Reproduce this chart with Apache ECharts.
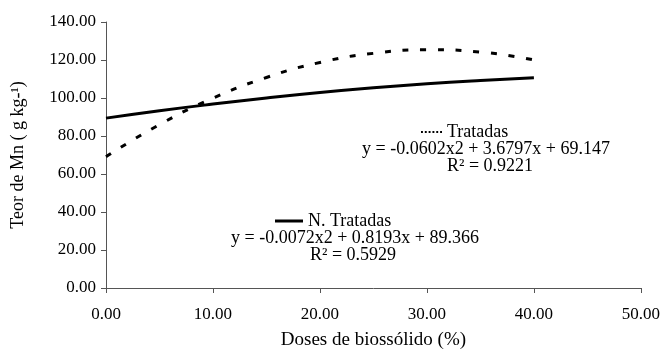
<!DOCTYPE html>
<html>
<head>
<meta charset="utf-8">
<script src="https://cdn.jsdelivr.net/npm/echarts@6/dist/echarts.min.js"></script>
<style>
  html, body { margin: 0; padding: 0; background: #fff; }
  #chart { width: 663px; height: 356px; }
</style>
</head>
<body>
<div id="chart"></div>
<script>
// doses (%) and Mn values
var doses = [0, 5, 10, 15, 20, 25, 30, 35, 40]
var tratadas = [69.1, 86.0, 99.9, 110.8, 118.7, 123.5, 125.4, 124.2, 120.0]
var naoTratadas = [89.4, 93.3, 96.8, 100.0, 102.9, 105.4, 107.5, 109.2, 110.6]

var eqTratadas = 'y = -0.0602x2 + 3.6797x + 69.147'
var r2Tratadas = 'R² = 0.9221'
var eqNaoTratadas = 'y = -0.0072x2 + 0.8193x + 89.366'
var r2NaoTratadas = 'R² = 0.5929'

var font = 'Liberation Serif'
// six small dots for the dotted legend sample
var dotIcon = 'path://M0 0h2v2H0zM4 0h2v2H4zM8 0h2v2H8zM12 0h2v2h-2zM16 0h2v2h-2zM20 0h2v2h-2z'

function pairs(xs, ys) {
  return xs.map(function(x, i) { return [x, ys[i]] })
}

var chart = echarts.init(document.getElementById('chart'))
chart.setOption({
  backgroundColor: '#fff',
  animation: false,
  textStyle: { fontFamily: font, color: '#000' },
  grid: { left: 106, right: 21, top: 22, bottom: 68 },
  legend: [{
    data: [{ name: 'Tratadas', icon: dotIcon }],
    left: 416,
    top: 118,
    itemWidth: 21,
    itemHeight: 3,
    itemGap: 4,
    textStyle: { fontFamily: font, fontSize: 18, color: '#000' }
  }, {
    data: [{ name: 'N. Tratadas', icon: 'rect' }],
    left: 270,
    top: 207,
    itemWidth: 28,
    itemHeight: 3,
    itemGap: 4,
    textStyle: { fontFamily: font, fontSize: 18, color: '#000' }
  }],
  xAxis: {
    type: 'value',
    min: 0,
    max: 50,
    interval: 10,
    name: 'Doses de biossólido (%)',
    nameLocation: 'middle',
    nameGap: 43,
    nameTextStyle: { fontFamily: font, fontSize: 19, color: '#000' },
    axisLine: { lineStyle: { color: '#555', width: 1 } },
    axisTick: { show: true, length: 5, lineStyle: { color: '#555' } },
    axisLabel: {
      margin: 18,
      fontFamily: font,
      fontSize: 17,
      color: '#000',
      formatter: function(v) { return v.toFixed(2) }
    },
    splitLine: { show: false }
  },
  yAxis: {
    type: 'value',
    min: 0,
    max: 140,
    interval: 20,
    name: 'Teor de Mn ( g kg-¹)',
    nameLocation: 'middle',
    nameGap: 79,
    nameTextStyle: { fontFamily: font, fontSize: 18, color: '#000' },
    axisLine: { show: true, lineStyle: { color: '#555', width: 1 } },
    axisTick: { show: true, length: 5, lineStyle: { color: '#555' } },
    axisLabel: {
      margin: 10,
      fontFamily: font,
      fontSize: 17,
      color: '#000',
      formatter: function(v) { return v.toFixed(2) }
    },
    splitLine: { show: false }
  },
  series: [{
    name: 'Tratadas',
    type: 'line',
    data: pairs(doses, tratadas),
    smooth: true,
    symbol: 'none',
    lineStyle: { color: '#000', width: 3, type: [6, 11.7] },
    itemStyle: { color: '#000' }
  }, {
    name: 'N. Tratadas',
    type: 'line',
    data: pairs(doses, naoTratadas),
    smooth: true,
    symbol: 'none',
    lineStyle: { color: '#000', width: 3 },
    itemStyle: { color: '#000' }
  }],
  graphic: [{
    type: 'text',
    x: 486,
    y: 149,
    style: { text: eqTratadas, font: '18px ' + font, fill: '#000', align: 'center', verticalAlign: 'middle' }
  }, {
    type: 'text',
    x: 490,
    y: 166,
    style: { text: r2Tratadas, font: '18px ' + font, fill: '#000', align: 'center', verticalAlign: 'middle' }
  }, {
    type: 'text',
    x: 355,
    y: 238,
    style: { text: eqNaoTratadas, font: '18px ' + font, fill: '#000', align: 'center', verticalAlign: 'middle' }
  }, {
    type: 'text',
    x: 353,
    y: 255,
    style: { text: r2NaoTratadas, font: '18px ' + font, fill: '#000', align: 'center', verticalAlign: 'middle' }
  }]
})
</script>
</body>
</html>
